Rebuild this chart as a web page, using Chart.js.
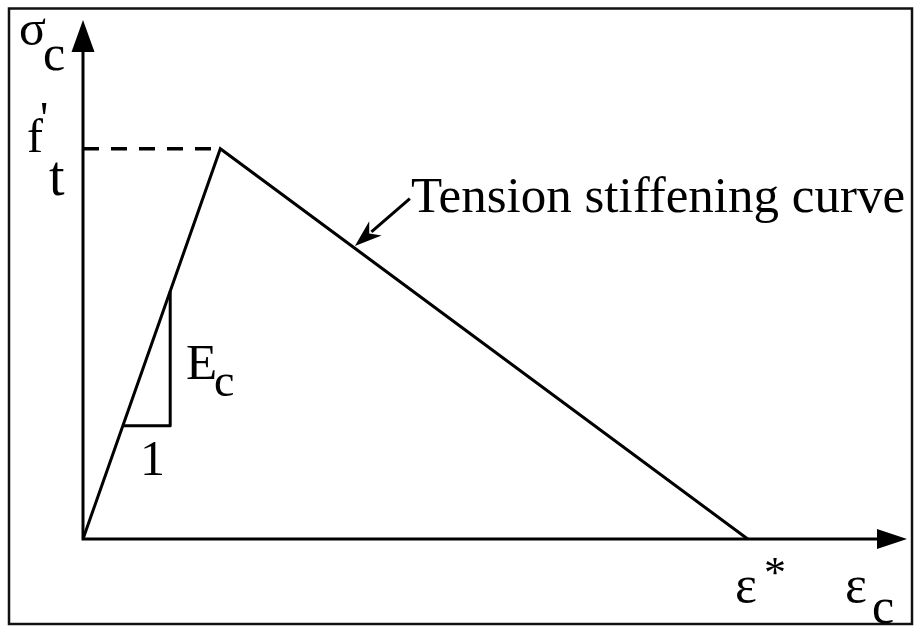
<!DOCTYPE html>
<html>
<head>
<meta charset="utf-8">
<script src="https://cdn.jsdelivr.net/npm/chart.js@4"></script>
<style>
    body { margin: 0; background: #fff; }
    #caixa { width: 915px; height: 626px; }
</style>
</head>
<body>
<div id="caixa"><canvas id="grafico"></canvas></div>
<script>
// Dados do diagrama (deformação x tensão, unidades relativas: pico = 1)
const deformacao = [0, 1, 4.84];
const tensao = [0, 1, 0];
const picoX = [0, 1];
const picoY = [1, 1];
const trianguloX = [0.29, 0.635, 0.635];
const trianguloY = [0.29, 0.29, 0.635];
const setaX = [2.38, 1.98];
const setaY = [0.872, 0.751];
const limiteX = 6;
const limiteY = 1.33;

const fonte = '"Liberation Serif", "Times New Roman", serif';

function pontos(xs, ys) {
    return xs.map((x, i) => ({ x: x, y: ys[i] }));
}

// ponta de seta (eixos e rótulo)
function pontaSeta(ctx, x0, y0, x1, y1, comp, larg, entalhe) {
    const ang = Math.atan2(y1 - y0, x1 - x0);
    const cos = Math.cos(ang), sin = Math.sin(ang);
    const bx = x1 - comp * cos, by = y1 - comp * sin;
    ctx.beginPath();
    ctx.moveTo(x1, y1);
    ctx.lineTo(bx - larg * sin, by + larg * cos);
    ctx.lineTo(x1 - comp * (1 - entalhe) * cos, y1 - comp * (1 - entalhe) * sin);
    ctx.lineTo(bx + larg * sin, by - larg * cos);
    ctx.closePath();
    ctx.fill();
}

function texto(ctx, str, x, y, tam) {
    ctx.font = tam + 'px ' + fonte;
    ctx.fillText(str, x, y);
}

// Plugin para eixos com setas, moldura e rótulos
const desenhoExtra = {
    id: 'desenhoExtra',
    afterDatasetsDraw(chart) {
        const ctx = chart.ctx;
        const sx = chart.scales.x, sy = chart.scales.y;
        const x0 = sx.getPixelForValue(0), y0 = sy.getPixelForValue(0);
        const xFim = sx.getPixelForValue(limiteX), yFim = sy.getPixelForValue(limiteY);

        ctx.save();
        ctx.strokeStyle = '#000';
        ctx.fillStyle = '#000';
        ctx.lineWidth = 3;
        ctx.lineCap = 'butt';

        // eixos
        ctx.beginPath();
        ctx.moveTo(x0, y0);
        ctx.lineTo(xFim - 10, y0);
        ctx.moveTo(x0, y0 + 1.5);
        ctx.lineTo(x0, yFim + 10);
        ctx.stroke();
        pontaSeta(ctx, x0, y0, xFim, y0, 30, 10, 0);
        pontaSeta(ctx, x0, y0, x0, yFim, 32, 11.5, 0);

        // seta do rótulo
        const ax = sx.getPixelForValue(setaX[0]), ay = sy.getPixelForValue(setaY[0]);
        const bx = sx.getPixelForValue(setaX[1]), by = sy.getPixelForValue(setaY[1]);
        ctx.lineWidth = 3;
        ctx.beginPath();
        ctx.moveTo(ax, ay);
        ctx.lineTo(bx + (ax - bx) * 0.3, by + (ay - by) * 0.3);
        ctx.stroke();
        pontaSeta(ctx, ax, ay, bx, by, 27, 9.5, 0.3);

        // moldura
        ctx.strokeStyle = '#111';
        ctx.lineWidth = 2.5;
        ctx.strokeRect(9, 8.5, 903, 615.5);

        // rótulos
        ctx.textBaseline = 'alphabetic';
        texto(ctx, 'σ', 19, 45, 50);
        texto(ctx, 'c', 43, 70, 50);
        texto(ctx, 'f', 27, 152, 48);
        texto(ctx, '\'', 40, 134, 46);
        texto(ctx, 't', 49, 195, 56);
        texto(ctx, 'Tension stiffening curve', 411, 212, 51);
        texto(ctx, 'E', 186, 379, 51);
        texto(ctx, 'c', 214, 396, 46);
        texto(ctx, '1', 140, 475, 50);
        texto(ctx, 'ε', 735, 602, 52);
        texto(ctx, '*', 764, 587, 44);
        texto(ctx, 'ε', 845, 602, 52);
        texto(ctx, 'c', 872, 623, 50);
        ctx.restore();
    }
};

const ctx = document.getElementById('grafico').getContext('2d');

const grafico = new Chart(ctx, {
    type: 'scatter',
    data: {
        datasets: [
            {
                label: 'Tension stiffening curve',
                data: pontos(deformacao, tensao),
                showLine: true,
                borderColor: '#000',
                borderWidth: 3,
                pointRadius: 0,
                tension: 0
            },
            {
                label: 'f\'t',
                data: pontos(picoX, picoY),
                showLine: true,
                borderColor: '#000',
                borderWidth: 3.5,
                borderDash: [16, 12],
                pointRadius: 0
            },
            {
                label: 'Ec',
                data: pontos(trianguloX, trianguloY),
                showLine: true,
                borderColor: '#000',
                borderWidth: 3,
                pointRadius: 0,
                borderJoinStyle: 'round'
            }
        ]
    },
    options: {
        responsive: true,
        maintainAspectRatio: false,
        animation: false,
        layout: {
            padding: { left: 83, right: 8, top: 20, bottom: 87 }
        },
        plugins: {
            legend: { display: false },
            tooltip: { enabled: false }
        },
        scales: {
            x: { type: 'linear', min: 0, max: limiteX, display: false },
            y: { type: 'linear', min: 0, max: limiteY, display: false }
        }
    },
    plugins: [desenhoExtra]
});
</script>
</body>
</html>
